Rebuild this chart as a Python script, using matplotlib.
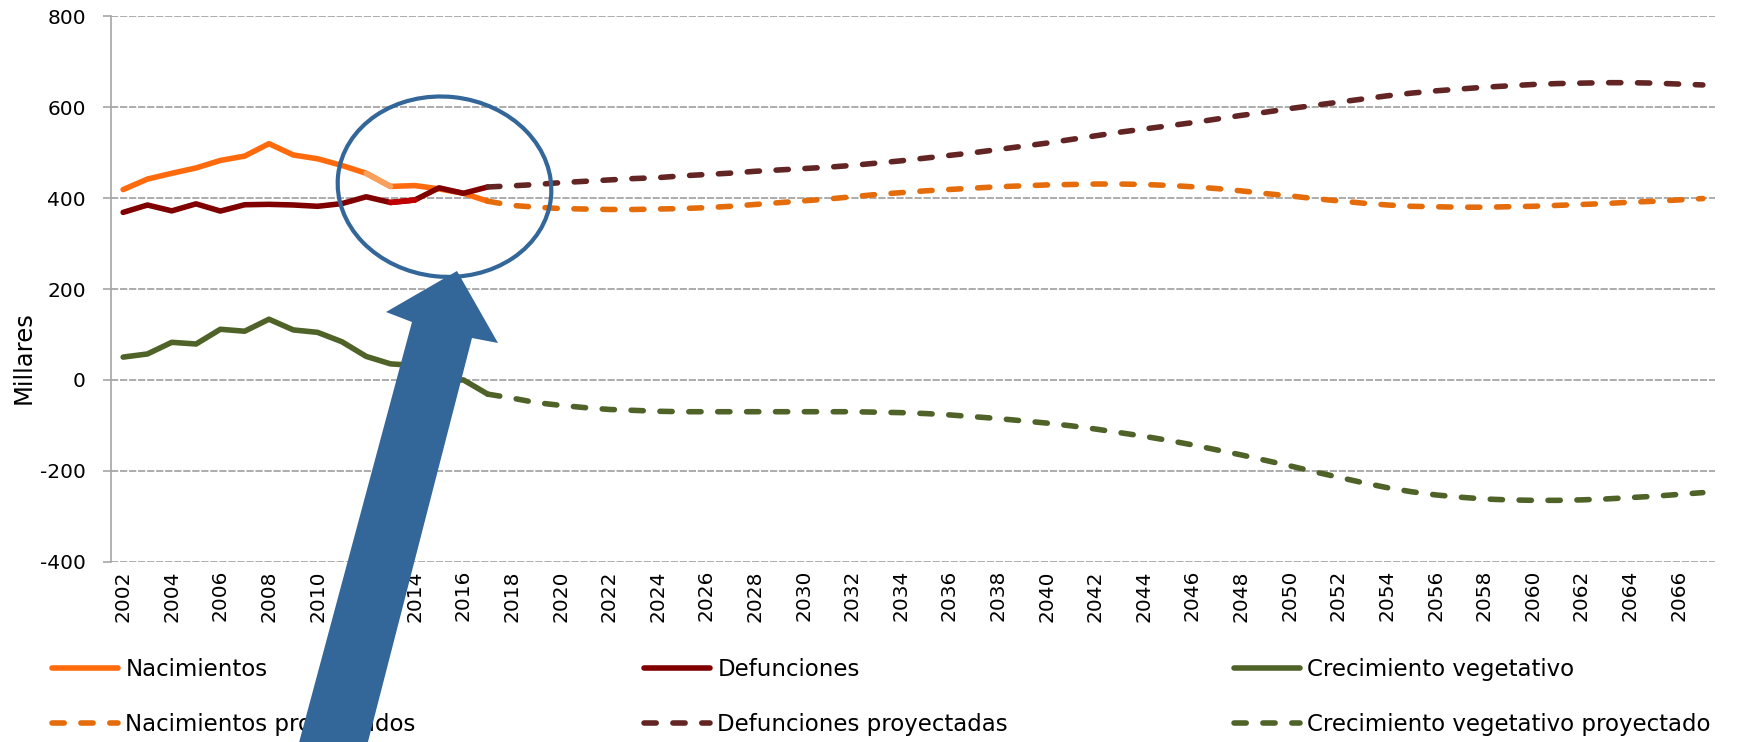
import numpy as np
import matplotlib.pyplot as plt
from matplotlib.patches import Ellipse, Polygon

plt.rcParams['axes.unicode_minus'] = False

# --------- DATA (miles de personas) ---------
years_hist = list(range(2002, 2018))
years_proj = list(range(2017, 2068))

nacimientos = [418.8, 441.9, 454.6, 466.4, 482.9, 492.5, 519.8, 494.9,
               486.6, 471.9, 454.6, 425.7, 427.6, 420.3, 410.6, 393.2]
defunciones = [368.6, 384.8, 371.9, 387.4, 371.5, 385.4, 386.3, 384.9,
               382.0, 387.9, 402.9, 390.4, 395.8, 422.6, 410.6, 424.5]
crecimiento = [50.2, 57.1, 82.7, 79.0, 111.4, 107.1, 133.5, 110.0,
               104.6, 84.0, 51.7, 35.3, 31.8, -2.3, 0.0, -31.3]

nacimientos_proy = [393.2, 384, 380, 377, 376, 375, 375, 376, 377, 379,
                    382, 386, 390, 394, 398, 403, 408, 412, 416, 419,
                    422, 425, 427, 429, 430, 431, 431, 430, 428, 425,
                    421, 416, 410, 405, 399, 394, 389, 385, 382, 381,
                    380, 380, 381, 382, 384, 386, 388, 391, 393, 396, 399]
defunciones_proy = [424.5, 427, 430, 434, 437, 440, 443, 445, 449, 452,
                    455, 459, 462, 465, 468, 472, 477, 482, 488, 494,
                    500, 507, 514, 521, 529, 537, 545, 552, 559, 566,
                    574, 582, 589, 597, 604, 611, 618, 625, 631, 636,
                    640, 644, 647, 650, 652, 653, 654, 654, 653, 651, 649]
crecimiento_proy = [-31.3, -40, -50, -56, -61, -65, -67, -69, -70, -70,
                    -70, -70, -70, -70, -70, -70, -71, -72, -74, -77,
                    -81, -85, -90, -95, -101, -108, -116, -124, -133, -143,
                    -154, -165, -177, -189, -202, -214, -226, -237, -246, -253,
                    -258, -262, -264, -265, -265, -264, -262, -259, -256, -252, -248]

labels = ["Nacimientos", "Defunciones", "Crecimiento vegetativo",
          "Nacimientos proyectados", "Defunciones proyectadas",
          "Crecimiento vegetativo proyectado"]

# --------- STYLE ---------
W, H = 1747, 742
c_nac, c_nac_p = '#FF6A0D', '#E46C0A'
c_def, c_def_p = '#800000', '#632523'
c_cre, c_cre_p = '#4F6228', '#4F6228'
c_note = '#336699'
grid_c = '#A6A6A6'
lw = 4.0
dash = (0, (2.2, 3.0))

fig = plt.figure(figsize=(W / 100, H / 100), dpi=100)
ax = fig.add_axes([111 / W, 0.243, 1604 / W, 0.735])

kw = dict(lw=lw, solid_joinstyle='round', solid_capstyle='round')
kwp = dict(lw=lw, linestyle=dash, dash_capstyle='round')

h_nac, = ax.plot(years_hist, nacimientos, color=c_nac, **kw)
h_def, = ax.plot(years_hist, defunciones, color=c_def, **kw)
h_cre, = ax.plot(years_hist, crecimiento, color=c_cre, **kw)
# small differently coloured segments seen in the source
ax.plot(years_hist[10:12], nacimientos[10:12], color='#F9A05C', **kw)
ax.plot(years_hist[11:13], defunciones[11:13], color='#C00000', **kw)

h_nac_p, = ax.plot(years_proj, nacimientos_proy, color=c_nac_p, **kwp)
h_def_p, = ax.plot(years_proj, defunciones_proy, color=c_def_p, **kwp)
h_cre_p, = ax.plot(years_proj, crecimiento_proy, color=c_cre_p, **kwp)

ax.set_xlim(2001.5, 2067.5)
ax.set_ylim(-400, 800)
ax.set_yticks(range(-400, 801, 200))
ax.set_xticks(range(2002, 2067, 2))
ax.set_xticklabels([str(y) for y in range(2002, 2067, 2)], rotation=90)
ax.tick_params(axis='x', length=0, pad=6, labelsize=14.5)
ax.tick_params(axis='y', length=6, width=1.2, color=grid_c, pad=12, labelsize=14.5)
ax.grid(axis='y', color=grid_c, lw=1.3, linestyle=(0, (4, 1)))
ax.set_axisbelow(True)
for s in ['top', 'right', 'bottom']:
    ax.spines[s].set_visible(False)
ax.spines['left'].set_color(grid_c)
ax.spines['left'].set_linewidth(1.2)

ax.set_ylabel('Millares', fontsize=17.5)
ax.yaxis.set_label_coords(-0.047, 0.375)

# legend: three columns, two rows
col_x = [52, 644, 1234]
pairs = [(h_nac, h_nac_p), (h_def, h_def_p), (h_cre, h_cre_p)]
for i, (a, b) in enumerate(pairs):
    fig.legend(handles=[a, b], labels=[labels[i], labels[i + 3]],
               loc='center left', bbox_to_anchor=(col_x[i] / W, 1 - 697 / H),
               frameon=False, fontsize=16.5, handlelength=2.9,
               handletextpad=0.3, labelspacing=1.4, borderpad=0,
               borderaxespad=0)

# annotation: ellipse and arrow (pixel positions -> inches)
def px(x, y):
    return (x / 100, (H - y) / 100)

ell = Ellipse(px(444.5, 186.7), 2.14, 1.80, angle=-6, fill=False,
              edgecolor=c_note, lw=3, transform=fig.dpi_scale_trans, zorder=20)
fig.add_artist(ell)

arrow_px = [(293, 765), (412, 322), (386, 312), (457, 271),
            (498, 343), (472, 338), (362, 765)]
arrow = Polygon([px(x, y) for x, y in arrow_px], closed=True,
                facecolor=c_note, edgecolor='none',
                transform=fig.dpi_scale_trans, zorder=20)
fig.add_artist(arrow)

fig.savefig('out.png', dpi=100)
